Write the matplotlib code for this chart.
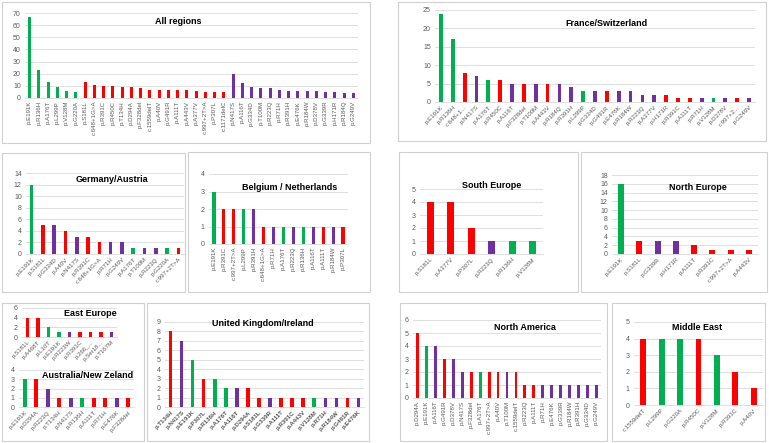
import matplotlib
matplotlib.use("Agg")
import matplotlib.pyplot as plt
from matplotlib.patches import Rectangle

plt.rcParams["font.family"] = ["Liberation Sans", "DejaVu Sans"]

W, H = 769, 443
COLORS = {"g": "#00B050", "r": "#FF0000", "p": "#7030A0"}
GRID = "#D9D9D9"
TICK = "#595959"
BORDER = "#D0D0D0"

# ---- data (counts per variant, colour class g/r/p) ----
all_labels = ["p.E191K", "p.R136H", "p.A176T", "p.L299P", "p.V128M", "p.G220A",
              "p.S181L", "c.648+1G>A", "p.R391C", "p.R450C", "p.T134H", "p.D294A",
              "p.F328del", "c.1559delT", "p.A40V", "p.G491R", "p.A111T", "p.A443V",
              "p.A377V", "c.997+2T>A", "p.P307L", "c.1171delC", "p.N417S", "p.A116T",
              "p.G334D", "p.T100M", "p.R223Q", "p.R71H", "p.R391H", "p.E476K",
              "p.R184W", "p.D378V", "p.G339R", "p.H171R", "p.R184Q", "p.G249V"]
all_values = [67, 23, 13, 9, 6, 5, 13, 11, 10, 10, 9, 9, 8, 7, 7, 7, 7, 7, 6, 5, 5, 5,
              20, 12, 9, 8, 8, 7, 6, 6, 6, 6, 5, 5, 4, 4]
all_kinds = list("gggggg") + list("rrrrrrrrrrrrrrrr") + list("pppppppppppppp")

fr_labels = ["p.E191K", "p.R136H", "c.648+1...", "p.N417S", "p.A176T", "p.R450C",
             "p.A116T", "p.F328del", "p.T100M", "p.A443V", "p.R184Q", "p.R391H",
             "p.L299P", "p.G334D", "p.G491R", "p.E476K", "p.R184W", "p.R223Q",
             "p.A377V", "p.H171R", "p.R391C", "p.A111T", "p.R71H", "p.V128M",
             "p.D378V", "c.997+2...", "p.G249V"]
fr_values = [24, 17, 8, 7, 6, 6, 5, 5, 5, 5, 5, 4, 3, 3, 3, 3, 3, 2, 2, 2, 1, 1, 1, 1, 1, 1, 1]
fr_kinds = list("ggrpgrprprppgprpppprrrpgprp")

de_labels = ["p.E191K", "p.S181L", "p.G334D", "p.A40V", "p.N417S", "p.R391C",
             "c.648+1G>A", "p.R71H", "p.G249V", "p.A176T", "p.T100M", "p.R223Q",
             "p.G220A", "c.997+2T>A"]
de_values = [12, 5, 5, 4, 3, 3, 2, 2, 2, 1, 1, 1, 1, 1]
de_kinds = list("grprprrppgppgr")

be_labels = ["p.E191K", "p.R391C", "c.997+2T>A", "p.L299P", "p.R391H", "c.648+1G>A",
             "p.R71H", "p.A176T", "p.R223Q", "p.R136H", "p.A116T", "p.A111T",
             "p.R184W", "p.P307L"]
be_values = [3, 2, 2, 2, 2, 1, 1, 1, 1, 1, 1, 1, 1, 1]
be_kinds = list("grrgprpgpgprpr")

se_labels = ["p.S181L", "p.A377V", "p.P307L", "p.R223Q", "p.R136H", "p.V128M"]
se_values = [4, 4, 2, 1, 1, 1]
se_kinds = list("rrrpgg")

ne_labels = ["p.E191K", "p.S181L", "p.G339R", "p.H171R", "p.A111T", "p.R391C",
             "c.997+2T>A", "p.A443V"]
ne_values = [16, 3, 3, 3, 2, 1, 1, 1]
ne_kinds = list("grpprrrr")

ee_labels = ["p.S181L", "p.A468T", "p.L10T", "p.E191K", "p.R223W", "p.R391C",
             "p.266_...", "p.Ser18...", "p.T167M"]
ee_values = [4, 4, 2, 1, 1, 1, 1, 1, 1]
ee_kinds = list("rrggprrrp")

au_labels = ["p.E191K", "p.D294A", "p.R223Q", "p.T134H", "p.N417S", "p.R136H",
             "p.A111T", "p.R71H", "p.E476K", "p.F328del"]
au_values = [3, 3, 2, 1, 1, 1, 1, 1, 1, 1]
au_kinds = list("grprpgrrpr")

uk_labels = ["p.T134H", "p.N417S", "p.E191K", "p.P307L", "p.R136H", "p.A176T",
             "p.A116T", "p.D294A", "p.S181L", "p.G339R", "p.A111T", "p.R391C",
             "p.A443V", "p.V128M", "p.R71H", "p.R184W", "p.G491R", "p.E476K"]
uk_values = [8, 7, 5, 3, 3, 2, 2, 2, 1, 1, 1, 1, 1, 1, 1, 1, 1, 1]
uk_kinds = list("rpgrggprrprrrgpprp")

na_labels = ["p.D294A", "p.E191K", "p.A116T", "p.G491R", "p.D378V", "p.N417S",
             "p.F328del", "p.A176T", "c.997+2T>A", "p.A40V", "p.T100M", "c.1559delT",
             "p.R223Q", "p.A111T", "p.R71H", "p.E476K", "p.G339R", "p.R184W",
             "p.R391H", "p.G334D", "p.G249V"]
na_values = [5, 4, 4, 3, 3, 2, 2, 2, 2, 2, 2, 2, 1, 1, 1, 1, 1, 1, 1, 1, 1]
na_kinds = list("rgprpprgrrprrrppppppp")

me_labels = ["c.1559delT", "p.L299P", "p.G220A", "p.R450C", "p.V128M", "p.R391C", "p.A40V"]
me_values = [4, 4, 4, 4, 3, 2, 1]
me_kinds = list("rggrgrr")


def px_rect(x0, y0, x1, y1):
    return [x0 / W, 1 - y1 / H, (x1 - x0) / W, (y1 - y0) / H]


def frame(fig, box):
    bx = px_rect(*box)
    fig.add_artist(Rectangle((bx[0], bx[1]), bx[2], bx[3], transform=fig.transFigure,
                             fill=False, edgecolor=BORDER, linewidth=0.8))


def panel(fig, area, title, title_xy, labels, values, kinds, ymax, ystep, rot, bold_x=False):
    ax = fig.add_axes(px_rect(*area))
    x = range(len(values))
    ax.bar(x, values, width=0.32, color=[COLORS[k] for k in kinds], zorder=3)
    ax.set_xlim(-0.5, len(values) - 0.5)
    ax.set_ylim(0, ymax)
    ax.set_yticks(range(0, ymax + 1, ystep))
    ax.grid(axis="y", color=GRID, linewidth=0.6, zorder=0)
    for s in ["top", "right", "left"]:
        ax.spines[s].set_visible(False)
    ax.spines["bottom"].set_color(GRID)
    ax.spines["bottom"].set_linewidth(0.6)
    ax.tick_params(axis="y", length=0, labelsize=5, colors=TICK, pad=3)
    ax.tick_params(axis="x", length=0, labelsize=4.4, colors=TICK, pad=2)
    ax.set_xticks(list(x))
    if rot == 90:
        ax.set_xticklabels(labels, rotation=90, ha="center", va="top")
    else:
        ax.set_xticklabels(labels, rotation=45, ha="right", va="top", rotation_mode="anchor",
                           fontweight="bold" if bold_x else "normal")
    ax.patch.set_alpha(0)
    fig.text(title_xy[0] / W, 1 - title_xy[1] / H, title, ha="center", va="center",
             fontsize=6.5, fontweight="bold", color="black")
    return ax


fig = plt.figure(figsize=(W / 100, H / 100), dpi=100)

for box in [(2, 2, 370, 143), (398, 2, 766, 141), (2, 153, 185, 292), (188, 152, 370, 292),
            (399, 152, 578, 292), (581, 152, 767, 292), (2, 303, 144, 441),
            (147, 303, 369, 441), (400, 303, 607, 441), (612, 303, 765, 441)]:
    frame(fig, box)

panel(fig, (25, 13, 358, 98), "All regions", (178, 22),
      all_labels, all_values, all_kinds, 70, 10, 90)
panel(fig, (435, 10, 755, 102), "France/Switzerland", (606, 23),
      fr_labels, fr_values, fr_kinds, 25, 5, 45)
panel(fig, (26, 173, 184, 254), "Germany/Austria", (112, 179),
      de_labels, de_values, de_kinds, 14, 2, 45)
panel(fig, (209, 174, 348, 244), "Belgium / Netherlands", (290, 187),
      be_labels, be_values, be_kinds, 4, 1, 90)
panel(fig, (420, 189, 543, 254), "South Europe", (492, 185),
      se_labels, se_values, se_kinds, 5, 1, 45)
panel(fig, (612, 175, 758, 254), "North Europe", (698, 188),
      ne_labels, ne_values, ne_kinds, 18, 2, 45)
panel(fig, (22, 308, 117, 337), "East Europe", (90, 314),
      ee_labels, ee_values, ee_kinds, 6, 2, 45)
panel(fig, (19, 370, 134, 407), "Australia/New Zeland", (88, 376),
      au_labels, au_values, au_kinds, 4, 1, 45)
panel(fig, (165, 322, 364, 407), "United Kingdom/Ireland", (263, 324),
      uk_labels, uk_values, uk_kinds, 9, 1, 45, bold_x=True)
panel(fig, (413, 320, 601, 398), "North America", (525, 328),
      na_labels, na_values, na_kinds, 6, 1, 90)
panel(fig, (634, 322, 763, 405), "Middle East", (697, 328),
      me_labels, me_values, me_kinds, 5, 1, 45)

fig.savefig("out.png", dpi=100, facecolor="white")
